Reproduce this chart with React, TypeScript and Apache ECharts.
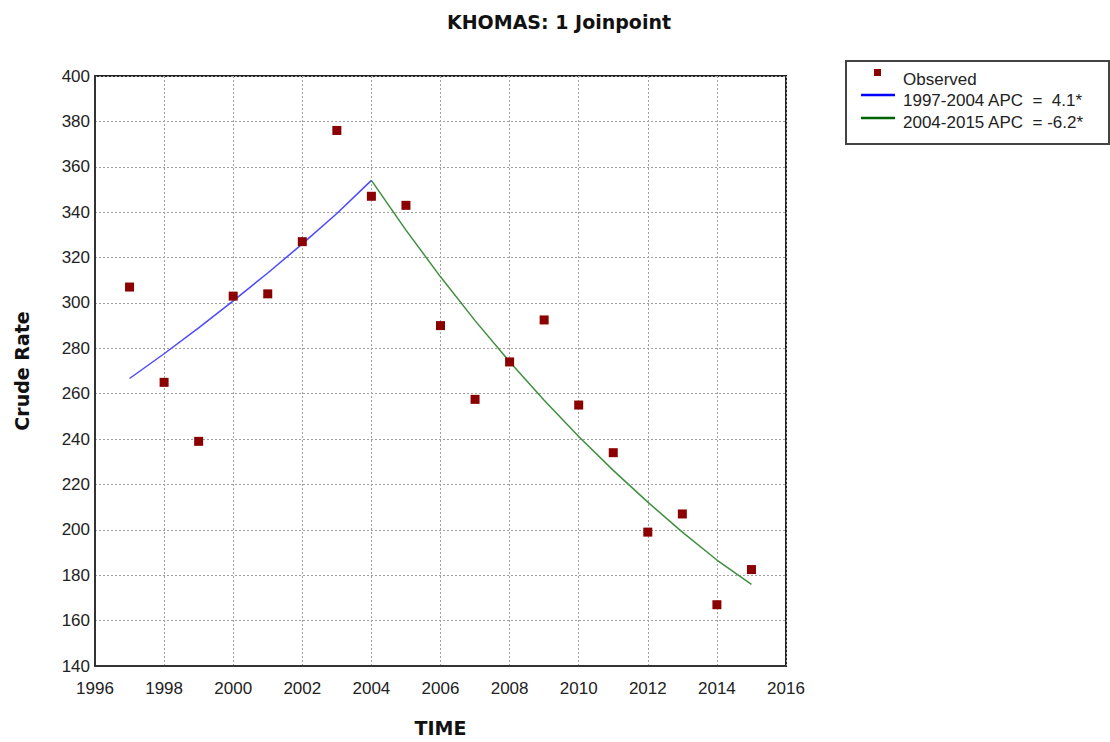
import React, { useEffect, useRef } from "react";
import * as echarts from "echarts";

// Observed crude rates, Khomas, 1997-2015
const years = [1997, 1998, 1999, 2000, 2001, 2002, 2003, 2004, 2005, 2006, 2007, 2008, 2009, 2010, 2011, 2012, 2013, 2014, 2015];
const observed = [307, 265, 239, 303, 304, 327, 376, 347, 343, 290, 257.5, 274, 292.5, 255, 234, 199, 207, 167, 182.5];

// Fitted joinpoint segments
const seg1Years = [1997, 1998, 1999, 2000, 2001, 2002, 2003, 2004];
const seg1Fit = [266.7, 277.6, 289.0, 300.9, 313.2, 326.0, 339.4, 354.0];
const seg2Years = [2004, 2005, 2006, 2007, 2008, 2009, 2010, 2011, 2012, 2013, 2014, 2015];
const seg2Fit = [354.0, 332.1, 311.5, 292.2, 274.1, 257.1, 241.1, 226.2, 212.2, 199.0, 186.7, 176.0];

const legendLabels = ["Observed", "1997-2004 APC  =  4.1*", "2004-2015 APC  = -6.2*"];

const FONT = "'Liberation Sans', Arial, sans-serif";
const BOLD_FONT = "'DejaVu Sans', Verdana, sans-serif";

export default function App() {
  const ref = useRef<HTMLDivElement>(null);

  useEffect(() => {
    if (!ref.current) return;
    const chart = echarts.init(ref.current, undefined, { renderer: "svg" });
    const zip = (xs: number[], ys: number[]) => xs.map((x, i) => [x, ys[i]]);

    chart.setOption({
      animation: false,
      backgroundColor: "#ffffff",
      title: {
        text: "KHOMAS: 1 Joinpoint",
        left: 554,
        top: 7,
        textAlign: "center",
        textStyle: { fontFamily: BOLD_FONT, fontWeight: "bold", fontSize: 19, color: "#111" },
      },
      grid: {
        left: 95,
        top: 76,
        width: 691,
        height: 593,
        show: true,
        borderColor: "#222",
        borderWidth: 2,
        backgroundColor: "transparent",
      },
      xAxis: {
        type: "value",
        min: 1996,
        max: 2016,
        interval: 2,
        name: "TIME",
        nameLocation: "middle",
        nameGap: 52,
        nameTextStyle: { fontFamily: BOLD_FONT, fontWeight: "bold", fontSize: 19, color: "#111" },
        axisLine: { show: true, lineStyle: { color: "#333", width: 2 } },
        axisTick: { show: false },
        axisLabel: {
          margin: 14,
          fontFamily: FONT,
          fontSize: 17,
          color: "#222",
          formatter: (v: number) => String(v),
        },
        splitLine: { show: true, lineStyle: { color: "#a0a0a0", type: [2, 2], width: 1 } },
      },
      yAxis: {
        type: "value",
        min: 140,
        max: 400,
        interval: 20,
        name: "Crude Rate",
        nameLocation: "middle",
        nameGap: 64,
        nameTextStyle: { fontFamily: BOLD_FONT, fontWeight: "bold", fontSize: 19, color: "#111" },
        axisLine: { show: true, lineStyle: { color: "#333", width: 2 } },
        axisTick: { show: false },
        axisLabel: { margin: 5, fontFamily: FONT, fontSize: 17, color: "#222" },
        splitLine: { show: true, lineStyle: { color: "#a0a0a0", type: [2, 2], width: 1 } },
      },
      series: [
        {
          name: legendLabels[1],
          type: "line",
          data: zip(seg1Years, seg1Fit),
          showSymbol: false,
          symbol: "none",
          lineStyle: { color: "#4a4aff", width: 1.5 },
          z: 2,
        },
        {
          name: legendLabels[2],
          type: "line",
          data: zip(seg2Years, seg2Fit),
          showSymbol: false,
          symbol: "none",
          lineStyle: { color: "#3f8f3f", width: 1.5 },
          z: 2,
        },
        {
          name: legendLabels[0],
          type: "scatter",
          data: zip(years, observed),
          symbol: "rect",
          symbolSize: 9,
          itemStyle: { color: "#8b0000", opacity: 1 },
          z: 3,
        },
      ],
      graphic: [
        {
          type: "group",
          left: 845,
          top: 60,
          children: [
            {
              type: "rect",
              shape: { x: 0, y: 0, width: 263, height: 83 },
              style: { fill: "#fff", stroke: "#444", lineWidth: 2 },
            },
            {
              type: "rect",
              shape: { x: 28, y: 8, width: 7, height: 7 },
              style: { fill: "#8b0000" },
            },
            {
              type: "text",
              x: 57,
              y: 18,
              style: { text: legendLabels[0], font: `17px ${FONT}`, fill: "#222", textVerticalAlign: "middle" },
            },
            {
              type: "line",
              shape: { x1: 15, y1: 34, x2: 49, y2: 34 },
              style: { stroke: "#0000ff", lineWidth: 2.5 },
            },
            {
              type: "text",
              x: 57,
              y: 39,
              style: { text: legendLabels[1], font: `17px ${FONT}`, fill: "#222", textVerticalAlign: "middle" },
            },
            {
              type: "line",
              shape: { x1: 15, y1: 57, x2: 49, y2: 57 },
              style: { stroke: "#006400", lineWidth: 2.5 },
            },
            {
              type: "text",
              x: 57,
              y: 61,
              style: { text: legendLabels[2], font: `17px ${FONT}`, fill: "#222", textVerticalAlign: "middle" },
            },
          ],
        },
      ],
    });

    return () => chart.dispose();
  }, []);

  return (
    <div
      ref={ref}
      style={{ position: "fixed", left: 0, top: 0, width: 1110, height: 742, background: "#fff" }}
    />
  );
}
